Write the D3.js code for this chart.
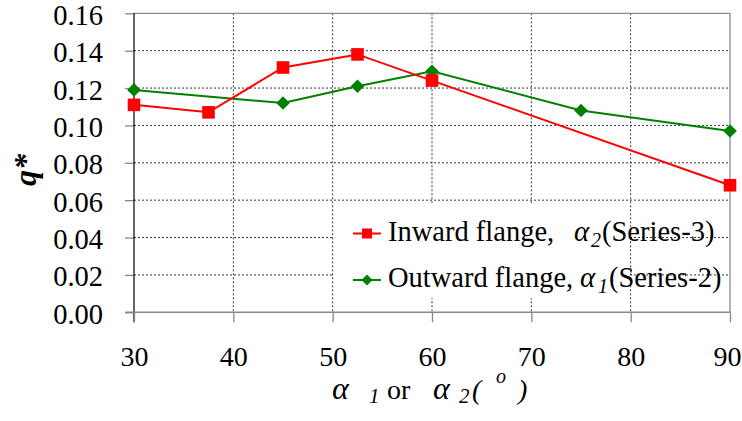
<!DOCTYPE html>
<html>
<head>
<meta charset="utf-8">
<script src="https://cdn.jsdelivr.net/npm/d3@7"></script>
<style>
  html, body { margin: 0; padding: 0; background: #fff; }
  svg { display: block; }
</style>
</head>
<body>
<svg id="chart" width="742" height="421"></svg>
<script>
// Flange angle (degrees) and the normalised quantity q*
const inwardAngle  = [30, 37.5, 45, 52.5, 60, 90];
const inwardQ      = [0.111, 0.107, 0.131, 0.138, 0.124, 0.068];
const outwardAngle = [30, 45, 52.5, 60, 75, 90];
const outwardQ     = [0.119, 0.112, 0.121, 0.129, 0.108, 0.097];

const xTicks = [30, 40, 50, 60, 70, 80, 90];
const yTicks = [0.00, 0.02, 0.04, 0.06, 0.08, 0.10, 0.12, 0.14, 0.16];

const inward  = inwardAngle.map((a, i) => ({ x: a, y: inwardQ[i] }));
const outward = outwardAngle.map((a, i) => ({ x: a, y: outwardQ[i] }));

const SERIF = '"Liberation Serif", "Times New Roman", serif';
const svg = d3.select("#chart");
const plotL = 134, plotR = 730, plotT = 13.3, plotB = 312.3;

const x = d3.scaleLinear().domain([30, 90]).range([plotL, plotR]);
const y = d3.scaleLinear().domain([0, 0.16]).range([plotB, plotT]);

// dotted grid
const grid = svg.append("g");
grid.selectAll("line.h").data(yTicks.slice(1, -1)).join("line")
  .attr("x1", plotL).attr("x2", plotR)
  .attr("y1", d => y(d)).attr("y2", d => y(d))
  .attr("stroke", "#333").attr("stroke-width", 1).attr("stroke-dasharray", "2,2");
grid.selectAll("line.v").data(xTicks.slice(1, -1)).join("line")
  .attr("x1", d => x(d)).attr("x2", d => x(d))
  .attr("y1", plotT).attr("y2", plotB)
  .attr("stroke", "#333").attr("stroke-width", 1).attr("stroke-dasharray", "2,2");

// frame: grey top and right
svg.append("line").attr("x1", plotL).attr("x2", plotR).attr("y1", plotT).attr("y2", plotT)
  .attr("stroke", "#888").attr("stroke-width", 1.3);
svg.append("line").attr("x1", plotR).attr("x2", plotR).attr("y1", plotT).attr("y2", plotB)
  .attr("stroke", "#888").attr("stroke-width", 1.3);

// y axis
const yAxis = svg.append("g").attr("transform", `translate(${plotL},0)`)
  .call(d3.axisLeft(y).tickValues(yTicks).tickSize(9).tickPadding(22).tickFormat(d3.format(".2f")))
  .attr("font-family", null).attr("font-size", null);
yAxis.select(".domain").remove();
yAxis.selectAll(".tick line").attr("stroke", "#888").attr("stroke-width", 1.3);
yAxis.selectAll(".tick text").attr("dy", "11px").attr("fill", "#000")
  .style("font-size", "28.5px").style("font-family", SERIF);
svg.append("line").attr("x1", plotL).attr("x2", plotL).attr("y1", plotT).attr("y2", plotB + 10)
  .attr("stroke", "#000").attr("stroke-width", 1.2);

// x axis
const xAxis = svg.append("g").attr("transform", `translate(0,${plotB})`)
  .call(d3.axisBottom(x).tickValues(xTicks).tickSize(10).tickPadding(0).tickFormat(d3.format("d")))
  .attr("font-family", null).attr("font-size", null);
xAxis.select(".domain").remove();
xAxis.selectAll(".tick line").attr("stroke", "#888").attr("stroke-width", 1.3);
xAxis.selectAll(".tick text").attr("y", 54).attr("dy", 0).attr("fill", "#000")
  .attr("dx", d => d === 90 ? -3 : 0)
  .style("font-size", "28px").style("font-family", SERIF);
svg.append("line").attr("x1", plotL - 9).attr("x2", plotR).attr("y1", plotB).attr("y2", plotB)
  .attr("stroke", "#888").attr("stroke-width", 1.5);

// series
const line = d3.line().x(d => x(d.x)).y(d => y(d.y));
const RED = "#ff0000", GREEN = "#008000";

svg.append("path").datum(outward).attr("d", line)
  .attr("fill", "none").attr("stroke", GREEN).attr("stroke-width", 2);
svg.append("path").datum(inward).attr("d", line)
  .attr("fill", "none").attr("stroke", RED).attr("stroke-width", 2);

const diamond = r => `M0,${-r}L${r},0L0,${r}L${-r},0Z`;
svg.append("g").selectAll("path").data(outward).join("path")
  .attr("transform", d => `translate(${x(d.x)},${y(d.y)})`)
  .attr("d", diamond(6.8)).attr("fill", GREEN);
svg.append("g").selectAll("rect").data(inward).join("rect")
  .attr("x", d => x(d.x) - 6.3).attr("y", d => y(d.y) - 6.3)
  .attr("width", 12.6).attr("height", 12.6).attr("fill", RED);

// italic alpha glyph
function alpha(parent, ax, ay, size) {
  parent.append("text").attr("x", ax).attr("y", ay)
    .style("font-family", SERIF).style("font-style", "italic").style("font-size", size + "px")
    .text("α");
}

// legend
const lg = svg.append("g");
lg.append("rect").attr("x", 334).attr("y", 203).attr("width", 296).attr("height", 95).attr("fill", "#fff");

lg.append("line").attr("x1", 353).attr("x2", 381).attr("y1", 233.5).attr("y2", 233.5)
  .attr("stroke", RED).attr("stroke-width", 2);
lg.append("rect").attr("x", 362).attr("y", 228.5).attr("width", 10).attr("height", 10).attr("fill", RED);
lg.append("line").attr("x1", 353).attr("x2", 381).attr("y1", 280).attr("y2", 280)
  .attr("stroke", GREEN).attr("stroke-width", 2);
lg.append("path").attr("transform", "translate(367,280)").attr("d", diamond(5.5)).attr("fill", GREEN);

function legendText(yb, label, alphaX, sub, subX, tail, tailX) {
  lg.append("text").attr("x", 388).attr("y", yb)
    .style("font-size", "28.5px").style("font-family", SERIF).text(label);
  alpha(lg, alphaX, yb, 29);
  lg.append("text").attr("x", subX).attr("y", yb + 6)
    .style("font-family", SERIF).style("font-style", "italic").style("font-size", "20px").text(sub);
  lg.append("text").attr("x", tailX).attr("y", yb)
    .style("font-size", "28.5px").style("font-family", SERIF).text(tail);
}
legendText(241, "Inward flange,", 574, "2", 591, "(Series-3)", 602);
legendText(287, "Outward flange,", 580, "1", 598, "(Series-2)", 609);

// x-axis title
const xg = svg.append("g");
alpha(xg, 332, 399, 32);
alpha(xg, 433, 399, 32);
const xt = xg.append("text").attr("y", 399).style("font-size", "28px").style("font-family", SERIF);
xt.append("tspan").attr("x", 369).attr("dy", 4).style("font-style", "italic").style("font-size", "21px").text("1");
xt.append("tspan").attr("x", 387).attr("dy", -4).text("or");
xt.append("tspan").attr("x", 459).attr("dy", 4).style("font-style", "italic").style("font-size", "21px").text("2");
xt.append("tspan").attr("x", 472).attr("dy", -4).style("font-style", "italic").text("(");
xt.append("tspan").attr("x", 496).attr("dy", -16).style("font-style", "italic").style("font-size", "20px").text("o");
xt.append("tspan").attr("x", 518).attr("dy", 16).style("font-style", "italic").text(")");

// y-axis title
svg.append("text")
  .attr("transform", "translate(36,170) rotate(-90)")
  .attr("text-anchor", "middle")
  .style("font-family", SERIF)
  .style("font-size", "32px").style("font-weight", "bold").style("font-style", "italic")
  .text("q*");
</script>
</body>
</html>
